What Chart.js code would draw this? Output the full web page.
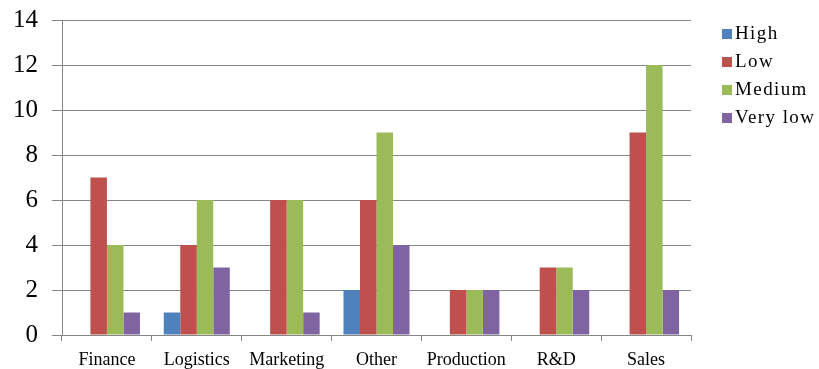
<!DOCTYPE html>
<html>
<head>
<meta charset="utf-8">
<script src="https://cdn.jsdelivr.net/npm/chart.js@4"></script>
<style>
  body { margin: 0; background: #fff; }
  #wrap { position: relative; width: 819px; height: 369px; }
  #legend { position: absolute; left: 722px; top: 19px; font-family: "Liberation Serif", serif; font-size: 19px; letter-spacing: 1.4px; color: #000; }
  #legend div { height: 28px; line-height: 28px; white-space: nowrap; }
  #legend span { display: inline-block; width: 10px; height: 10px; margin-right: 3px; vertical-align: 0px; }
</style>
</head>
<body>
<div id="wrap">
  <canvas id="chart" width="819" height="369"></canvas>
  <div id="legend"></div>
</div>
<script>
const categories = ["Finance", "Logistics", "Marketing", "Other", "Production", "R&D", "Sales"];
const highValues = [0, 1, 0, 2, 0, 0, 0];
const lowValues = [7, 4, 6, 6, 2, 3, 9];
const mediumValues = [4, 6, 6, 9, 2, 3, 12];
const veryLowValues = [1, 3, 1, 4, 2, 2, 2];
const seriesNames = ["High", "Low", "Medium", "Very low"];
const seriesColors = ["#4F81BD", "#C0504D", "#9BBB59", "#8064A2"];

function start() {
    const seriesValues = [highValues, lowValues, mediumValues, veryLowValues];
    const ctx = document.getElementById("chart").getContext("2d");
    const chart = new Chart(ctx, {
        type: "bar",
        data: {
            labels: categories,
            datasets: seriesNames.map((name, i) => ({
                label: name,
                data: seriesValues[i],
                backgroundColor: seriesColors[i],
                borderWidth: 0,
                barPercentage: 1,
                categoryPercentage: 0.735
            }))
        },
        options: {
            responsive: false,
            animation: false,
            layout: { padding: { top: 20, right: 128, left: 0, bottom: 0 } },
            plugins: { legend: { display: false }, tooltip: { enabled: false } },
            scales: {
                y: {
                    min: 0,
                    max: 14,
                    ticks: { stepSize: 2, color: "#000", padding: 14, font: { family: "Liberation Serif", size: 25 } },
                    grid: { color: "#868686", tickLength: 10 },
                    border: { color: "#868686" },
                    afterFit: (scale) => {
                        scale.width = 62;
                        scale.paddingTop = 0;
                        scale.paddingBottom = 0;
                    }
                },
                x: {
                    ticks: { color: "#000", padding: 8, font: { family: "Liberation Serif", size: 18 } },
                    grid: { offset: true, drawOnChartArea: false, color: "#868686", tickLength: 6 },
                    border: { color: "#868686" },
                    afterFit: (scale) => {
                        scale.height = 34;
                        scale.paddingLeft = 0;
                        scale.paddingRight = 0;
                    }
                }
            }
        }
    });

    // legend as text next to the plot
    const legend = document.getElementById("legend");
    seriesNames.forEach((name, i) => {
        legend.innerHTML += `<div><span style="background:${seriesColors[i]}"></span>${name}</div>`;
    });
}

window.addEventListener("load", start, false);
</script>
</body>
</html>
